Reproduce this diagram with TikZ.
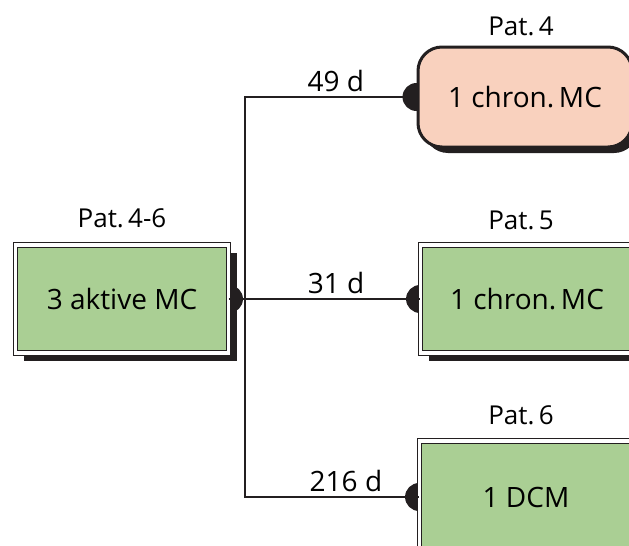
\documentclass[tikz,border=0pt]{standalone}
\usepackage{fontspec}
\setmainfont{Open Sans}
\usetikzlibrary{positioning,shadows,backgrounds,calc}

\definecolor{mcgreen}{RGB}{170,207,148}
\definecolor{mcpeach}{RGB}{249,209,190}
\definecolor{mcblack}{HTML}{231F20}

\tikzset{
        mcbox/.style={draw=mcblack, line width=0.9pt, double=white, double distance=3.5pt,
                fill=mcgreen, minimum width=213pt, minimum height=108pt,
                font=\fontsize{28}{32}\selectfont,
                drop shadow={shadow xshift=8pt, shadow yshift=-8pt, fill=mcblack, opacity=1}},
        chronbox/.style={draw=mcblack, line width=3pt, rounded corners=24pt,
                fill=mcpeach, minimum width=214pt, minimum height=100pt,
                font=\fontsize{28}{32}\selectfont,
                drop shadow={shadow xshift=6pt, shadow yshift=-6pt, fill=mcblack, opacity=1}},
        patlabel/.style={font=\fontsize{26}{30}\selectfont},
        daylabel/.style={above=1.5pt, font=\fontsize{28}{32}\selectfont},
        link/.style={draw=mcblack, line width=2.2pt},
        port/.style={fill=mcblack}
}

\begin{document}
\begin{tikzpicture}[x=1pt,y=-1pt]
        \useasboundingbox (0,0) rectangle (629,546);
        \clip (0,0) rectangle (629,546);

        % boxes
        \node[mcbox] (start) at (122,299) {3 aktive MC};
        \node[chronbox] (pat4) at (525,97) {1 chron.\,MC};
        \node[mcbox] (pat5) at (527,299) {1 chron.\,MC};
        \node[mcbox, minimum height=112pt] (pat6) at (526,497) {1 DCM};

        \node[patlabel, above=13pt of start] (lbl46) {Pat.\,4-6};
        \node[patlabel, above=6.5pt of pat4, xshift=-4pt] (lbl4) {Pat.\,4};
        \node[patlabel, above=11pt of pat5, xshift=-6pt] (lbl5) {Pat.\,5};
        \node[patlabel, above=12.5pt of pat6, xshift=-5pt] (lbl6) {Pat.\,6};

        % connectors
        \coordinate (fork) at ($(start.east)+(16,0)$);
        \draw[link] (start.east) -- (pat5.west);
        \draw[link] (pat4.west) -| (fork) |- (pat6.west);

        \path (fork |- pat4.west) -- (pat4.west) node[daylabel, pos=0.53] (d4) {49 d};
        \path (fork) -- (pat5.west) node[daylabel, pos=0.52] (d5) {31 d};
        \path (fork |- pat6.west) -- (pat6.west) node[daylabel, pos=0.58] (d6) {216 d};

        \begin{scope}[on background layer]
                \fill[port] (start.east) circle[radius=14pt];
                \fill[port] (pat4.west) circle[radius=14pt];
                \fill[port] (pat5.west) circle[radius=14pt];
                \fill[port] (pat6.west) circle[radius=14pt];
        \end{scope}
\end{tikzpicture}
\end{document}
